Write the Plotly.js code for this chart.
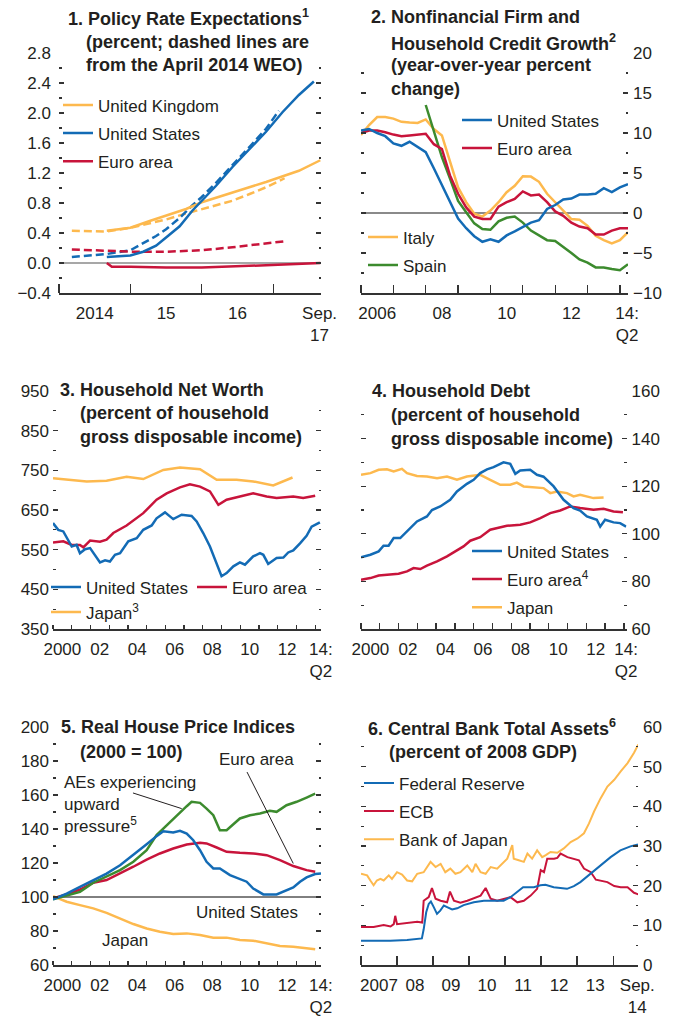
<!DOCTYPE html>
<html><head><meta charset="utf-8">
<script src="https://cdn.plot.ly/plotly-3.0.1.min.js"></script>
<style>html,body{margin:0;padding:0;background:#fff}#chart{width:679px;height:1025px}</style>
</head><body><div id="chart"></div>
<script>
// ---------- Panel 1: Policy rate expectations ----------
const p1_uk_x = [2014.67, 2015.0, 2015.27, 2015.5, 2015.78, 2016.0, 2016.43, 2016.9, 2017.36, 2017.66];
const p1_uk = [0.43, 0.47, 0.56, 0.63, 0.72, 0.81, 0.94, 1.08, 1.23, 1.37];
const p1_uk_apr_x = [2014.18, 2014.67, 2015.0, 2015.27, 2015.5, 2015.78, 2016.0, 2016.43, 2016.67, 2016.9, 2017.16];
const p1_uk_apr = [0.43, 0.42, 0.47, 0.53, 0.58, 0.66, 0.72, 0.83, 0.92, 1.01, 1.13];
const p1_us_x = [2014.67, 2015.0, 2015.18, 2015.36, 2015.5, 2015.69, 2015.87, 2016.0, 2016.2, 2016.43, 2016.67, 2016.9, 2017.13, 2017.36, 2017.57];
const p1_us = [0.08, 0.10, 0.15, 0.23, 0.34, 0.49, 0.70, 0.83, 1.03, 1.28, 1.52, 1.75, 2.01, 2.24, 2.42];
const p1_us_apr_x = [2014.18, 2014.67, 2015.0, 2015.18, 2015.36, 2015.5, 2015.69, 2015.87, 2016.0, 2016.2, 2016.43, 2016.67, 2016.9, 2017.08];
const p1_us_apr = [0.08, 0.12, 0.17, 0.26, 0.36, 0.45, 0.60, 0.77, 0.88, 1.07, 1.30, 1.55, 1.79, 2.03];
const p1_ea_x = [2014.67, 2014.74, 2015.0, 2015.5, 2016.0, 2016.43, 2016.9, 2017.66];
const p1_ea = [0.0, -0.05, -0.05, -0.06, -0.06, -0.05, -0.03, 0.0];
const p1_ea_apr_x = [2014.18, 2014.67, 2015.05, 2015.5, 2016.0, 2016.43, 2016.9, 2017.16];
const p1_ea_apr = [0.18, 0.16, 0.15, 0.15, 0.17, 0.21, 0.26, 0.29];
const p1_ticks = [2014.5, 2015.5, 2016.5, 2017.65];
const p1_labels = ['2014', '15', '16', 'Sep.<br>17'];
const p1_years = [2014, 2015, 2016, 2017];

// ---------- Panel 2: Credit growth (quarterly) ----------
const p2_q = [2006.0, 2006.25, 2006.5, 2006.75, 2007.0, 2007.25, 2007.5, 2007.75, 2008.0, 2008.25, 2008.5, 2008.75,
  2009.0, 2009.25, 2009.5, 2009.75, 2010.0, 2010.25, 2010.5, 2010.75, 2011.0, 2011.25, 2011.5, 2011.75,
  2012.0, 2012.25, 2012.5, 2012.75, 2013.0, 2013.25, 2013.5, 2013.75, 2014.0, 2014.25];
const p2_us = [10.3, 10.5, 10.0, 9.6, 8.7, 8.4, 8.9, 8.3, 7.6, 5.6, 3.5, 1.3, -0.7, -1.9, -2.9, -3.6, -3.3, -3.6, -2.8, -2.3,
  -1.8, -1.2, -0.9, 0.5, 1.0, 1.7, 1.8, 2.3, 2.3, 2.4, 3.1, 2.6, 3.2, 3.6];
const p2_ea = [10.0, 10.3, 10.3, 10.1, 9.8, 9.6, 9.7, 9.8, 9.9, 8.6, 8.0, 4.7, 2.4, 0.7, -0.45, -0.75, -0.75, 0.8, 1.35, 1.75,
  2.7, 2.2, 2.3, 1.35, 0.2, -0.35, -1.2, -1.7, -1.9, -2.7, -2.7, -2.2, -1.9, -1.9];
const p2_it = [9.75, 11.0, 12.0, 12.0, 11.8, 11.4, 11.3, 11.25, 11.7, 10.5, 9.7, 6.6, 3.2, 1.35, -0.1, -0.45, 0.3, 1.35, 2.6, 3.4,
  4.6, 4.55, 3.9, 2.4, 1.35, 0.2, -0.75, -0.85, -1.6, -2.85, -3.4, -3.8, -3.4, -2.4];
const p2_es_x = [2008.0, 2008.25, 2008.5, 2008.75, 2009.0, 2009.25, 2009.5, 2009.75, 2010.0, 2010.25, 2010.5, 2010.75,
  2011.0, 2011.25, 2011.5, 2011.75, 2012.0, 2012.25, 2012.5, 2012.75, 2013.0, 2013.25, 2013.5, 2013.75, 2014.0, 2014.25];
const p2_es = [13.5, 10.1, 7.0, 4.3, 1.5, 0.1, -1.3, -2.0, -2.1, -1.05, -0.6, -0.45, -1.2, -2.2, -2.85, -3.4, -3.5, -4.2, -5.0, -5.8,
  -6.2, -6.8, -6.8, -7.0, -7.15, -6.4];
const p2_ticks = [2006.5, 2008.5, 2010.5, 2012.5, 2014.22];
const p2_labels = ['2006', '08', '10', '12', '14:<br>Q2'];
const p2_years = [2006, 2007, 2008, 2009, 2010, 2011, 2012, 2013, 2014];

// ---------- Panel 3: Household net worth ----------
const p3_us_x = [2000.0, 2000.28, 2000.55, 2001.0, 2001.26, 2001.44, 2001.71, 2001.98, 2002.51, 2002.78, 2003.04, 2003.31, 2003.58,
  2004.02, 2004.47, 2004.82, 2005.27, 2005.53, 2005.98, 2006.42, 2006.87, 2007.4, 2007.67, 2008.02, 2008.38, 2008.65, 2009.0,
  2009.27, 2009.63, 2009.98, 2010.25, 2010.69, 2011.05, 2011.23, 2011.49, 2011.94, 2012.3, 2012.56, 2012.83, 2013.19, 2013.54,
  2013.81, 2014.25];
const p3_us = [617, 600, 596, 558, 562, 541, 551, 554, 518, 523, 520, 537, 541, 571, 579, 600, 611, 629, 644, 627, 638, 635, 621,
  592, 558, 525, 483, 491, 508, 518, 512, 533, 541, 537, 514, 529, 530, 543, 548, 566, 585, 608, 619];
const p3_ea_x = [2000.0, 2000.55, 2001.0, 2001.44, 2001.62, 2001.98, 2002.51, 2002.86, 2003.22, 2003.93, 2004.82, 2005.53, 2006.07,
  2006.78, 2007.31, 2007.85, 2008.38, 2008.83, 2009.27, 2009.8, 2010.69, 2011.41, 2011.94, 2012.83, 2013.36, 2014.0];
const p3_ea = [568, 571, 562, 562, 556, 573, 570, 575, 592, 611, 642, 676, 692, 707, 715, 709, 697, 663, 676, 682, 692, 684, 680,
  684, 680, 686];
const p3_jp_x = [2000.0, 2001.8, 2002.86, 2003.93, 2004.82, 2005.89, 2006.78, 2007.85, 2008.74, 2009.8, 2010.69, 2011.76, 2012.79];
const p3_jp = [730, 722, 724, 734, 728, 751, 757, 753, 726, 726, 722, 712, 732];
const p35_ticks = [2000.5, 2002.5, 2004.5, 2006.5, 2008.5, 2010.5, 2012.5, 2014.3];
const p35_labels = ['2000', '02', '04', '06', '08', '10', '12', '14:<br>Q2'];
const p345_years = [2000, 2001, 2002, 2003, 2004, 2005, 2006, 2007, 2008, 2009, 2010, 2011, 2012, 2013, 2014];

// ---------- Panel 4: Household debt ----------
const p4_us_x = [2000.0, 2000.5, 2000.94, 2001.2, 2001.47, 2001.74, 2002.09, 2002.45, 2002.98, 2003.51, 2003.78, 2004.22, 2004.75,
  2005.11, 2005.64, 2006.0, 2006.35, 2006.71, 2007.06, 2007.59, 2007.95, 2008.22, 2008.48, 2009.01, 2009.37, 2009.72, 2010.26,
  2010.79, 2011.32, 2011.67, 2012.03, 2012.56, 2012.74, 2013.0, 2013.45, 2013.8, 2014.12];
const p4_us = [90.1, 91.2, 92.6, 95.0, 95.0, 98.2, 98.2, 101.0, 105.2, 107.3, 110.0, 111.5, 114.3, 117.8, 121.0, 122.7, 125.5,
  127.1, 128.0, 130.0, 129.4, 125.2, 126.6, 126.9, 124.8, 124.0, 119.9, 114.3, 110.8, 109.8, 107.3, 105.9, 103.0, 105.9, 104.8,
  104.5, 103.0];
const p4_ea_x = [2000.0, 2000.5, 2000.94, 2001.56, 2002.0, 2002.45, 2002.8, 2003.16, 2003.51, 2004.05, 2004.58, 2005.02, 2005.46,
  2005.82, 2006.35, 2006.88, 2007.24, 2007.77, 2008.48, 2009.01, 2009.55, 2010.08, 2010.61, 2011.14, 2011.67, 2012.38, 2012.92,
  2013.45, 2013.95];
const p4_ea = [80.7, 81.4, 82.5, 82.8, 83.2, 84.2, 85.6, 85.2, 86.6, 88.4, 90.5, 92.6, 94.7, 97.1, 98.6, 101.7, 102.4, 103.4,
  103.8, 104.8, 106.6, 108.7, 109.8, 111.5, 110.8, 110.1, 110.5, 109.4, 109.1];
const p4_jp_x = [2000.0, 2000.5, 2000.94, 2001.38, 2001.74, 2002.18, 2002.45, 2002.98, 2003.51, 2004.05, 2004.58, 2005.11, 2005.64,
  2006.35, 2006.88, 2007.42, 2007.95, 2008.3, 2008.66, 2009.19, 2009.72, 2010.08, 2010.43, 2010.97, 2011.32, 2011.67, 2012.38,
  2012.92];
const p4_jp = [124.8, 125.5, 126.9, 127.1, 126.2, 127.3, 125.5, 124.3, 124.1, 123.4, 124.1, 122.7, 124.1, 124.8, 122.7, 120.6,
  120.6, 121.5, 119.9, 119.4, 119.2, 117.1, 117.8, 117.1, 115.7, 116.4, 115.0, 115.2];
const p4_ticks = [2000.5, 2002.5, 2004.5, 2006.5, 2008.5, 2010.5, 2012.5, 2014.12];

// ---------- Panel 5: Real house prices ----------
const p5_us_x = [2000.0, 2000.73, 2001.44, 2002.15, 2002.86, 2003.58, 2004.29, 2005.0, 2005.53, 2005.89, 2006.42, 2006.78, 2007.14,
  2007.49, 2007.85, 2008.2, 2008.56, 2008.91, 2009.45, 2009.98, 2010.34, 2010.69, 2011.23, 2011.94, 2012.47, 2012.83, 2013.19,
  2013.54, 2014.0, 2014.31];
const p5_us = [98.6, 102, 106, 110, 113.8, 118.7, 124.6, 131, 135.8, 138.7, 138, 138.9, 137.3, 133.4, 127.5, 120.7, 116.8, 116.8,
  112.9, 110.3, 109, 105, 101.5, 101.5, 104, 105.6, 109, 111.5, 113.5, 113.8];
const p5_ea_x = [2000.0, 2000.73, 2001.44, 2002.15, 2002.86, 2003.58, 2004.29, 2005.0, 2005.71, 2006.42, 2007.14, 2007.85, 2008.2,
  2008.74, 2009.27, 2009.98, 2010.69, 2011.41, 2012.12, 2012.83, 2013.54, 2014.0];
const p5_ea = [99.2, 101.5, 104.4, 108.4, 110, 113.8, 117.8, 122, 125.6, 128.5, 130.9, 131.9, 131.5, 129.1, 126.6, 126, 125.6,
  124.6, 121.7, 118.2, 115.8, 114.8];
const p5_ae_x = [2000.0, 2000.73, 2001.44, 2002.15, 2002.86, 2003.58, 2004.29, 2005.0, 2005.53, 2006.07, 2006.6, 2007.14, 2007.4,
  2007.85, 2008.2, 2008.56, 2008.91, 2009.27, 2009.63, 2009.98, 2010.52, 2011.05, 2011.58, 2011.94, 2012.47, 2013.01, 2013.54,
  2014.0];
const p5_ae = [98.6, 101, 103, 108.4, 111.9, 115.8, 120.7, 127.5, 136.4, 142.2, 148.1, 153.4, 156, 155.4, 152, 148.1, 139.3, 139.3,
  142.8, 146.2, 148.1, 149.1, 150.7, 150.1, 154, 156, 158.5, 160.8];
const p5_jp_x = [2000.0, 2000.73, 2001.44, 2002.15, 2002.86, 2003.58, 2004.29, 2005.0, 2005.71, 2006.42, 2007.14, 2007.85, 2008.56,
  2009.27, 2009.98, 2010.69, 2011.41, 2012.12, 2012.83, 2013.54, 2014.0];
const p5_jp = [100.5, 97.2, 95.2, 93.3, 90.7, 87.4, 84.1, 81.5, 79.6, 78.2, 78.6, 77.6, 76.1, 76.1, 74.7, 74.3, 72.7, 71.2, 70.8,
  69.8, 69.2];

// ---------- Panel 6: Central bank assets ----------
const p6_fed_x = [2007.0, 2007.81, 2008.28, 2008.69, 2008.74, 2008.81, 2008.88, 2008.94, 2009.02, 2009.11, 2009.2, 2009.3, 2009.39,
  2009.53, 2009.67, 2009.85, 2010.13, 2010.41, 2010.69, 2010.96, 2011.15, 2011.33, 2011.5, 2011.8, 2011.98, 2012.12, 2012.35,
  2012.72, 2012.91, 2013.09, 2013.37, 2013.65, 2013.93, 2014.2, 2014.48, 2014.69];
const p6_fed = [6.1, 6.1, 6.3, 6.7, 9, 13.3, 15.4, 16, 14.6, 12.9, 13.7, 15, 14.6, 14, 14.3, 15.1, 15.8, 16.2, 16.2, 16.2, 17.1,
  18.4, 19.6, 19.6, 20.1, 20.2, 19.6, 19.2, 19.9, 20.9, 23, 25.1, 27.2, 28.9, 29.9, 30.4];
const p6_ecb_x = [2007.0, 2007.35, 2007.63, 2007.82, 2007.91, 2007.95, 2008.0, 2008.28, 2008.56, 2008.7, 2008.74, 2008.88, 2008.97,
  2009.07, 2009.21, 2009.39, 2009.47, 2009.58, 2009.76, 2009.95, 2010.13, 2010.32, 2010.46, 2010.6, 2010.78, 2010.97, 2011.15,
  2011.34, 2011.52, 2011.71, 2011.89, 2011.99, 2012.08, 2012.17, 2012.36, 2012.45, 2012.54, 2012.73, 2012.91, 2013.05, 2013.19,
  2013.38, 2013.52, 2013.65, 2013.84, 2014.03, 2014.21, 2014.4, 2014.58, 2014.7];
const p6_ecb = [9.6, 9.6, 10.1, 9.7, 10.3, 12.4, 10.3, 10.6, 10.9, 10.7, 16.2, 17.1, 19.4, 16.7, 16.2, 15.8, 18.5, 16.2, 15.7, 16.2,
  16.8, 17.5, 19.4, 16.7, 16.2, 16.7, 17.1, 15.8, 16.2, 17.5, 19.2, 23.9, 23.4, 26.8, 26.8, 27.0, 28.1, 27.2, 26.8, 26.4, 24.3,
  23.4, 21.5, 21.3, 20.9, 19.9, 19.6, 19.6, 18.2, 17.8];
const p6_boj_x = [2007.0, 2007.17, 2007.26, 2007.35, 2007.44, 2007.54, 2007.63, 2007.77, 2007.86, 2008.0, 2008.14, 2008.28, 2008.42,
  2008.56, 2008.74, 2008.93, 2009.07, 2009.21, 2009.34, 2009.48, 2009.62, 2009.76, 2009.95, 2010.09, 2010.18, 2010.32, 2010.46,
  2010.6, 2010.78, 2010.97, 2011.06, 2011.2, 2011.24, 2011.38, 2011.52, 2011.62, 2011.75, 2011.89, 2012.03, 2012.13, 2012.26,
  2012.45, 2012.63, 2012.82, 2013.01, 2013.19, 2013.33, 2013.47, 2013.65, 2013.84, 2014.03, 2014.21, 2014.4, 2014.58, 2014.7];
const p6_boj = [23, 22.6, 21.3, 20.1, 21.3, 21.7, 21.3, 22.6, 21.7, 23.4, 22.8, 21.3, 21.1, 23, 23.4, 26, 24.7, 25.5, 23.4, 24.3,
  23, 23.4, 25.1, 23.4, 25.5, 23.4, 23, 24.7, 24.3, 26, 26.8, 30.2, 26.8, 26.4, 26, 28.1, 26.8, 28.9, 27.2, 27.7, 28.5, 28.3,
  29.4, 31, 31.9, 33.2, 35.7, 38.7, 42, 45, 46.7, 48.8, 50.9, 53.5, 55.6];
const p6_ticks = [2007.5, 2008.5, 2009.5, 2010.5, 2011.5, 2012.5, 2013.5, 2014.67];
const p6_labels = ['2007', '08', '09', '10', '11', '12', '13', 'Sep.<br>14'];
const p6_years = [2007, 2008, 2009, 2010, 2011, 2012, 2013, 2014];

// ---------- styling ----------
const W = 679, H = 1025;
const FONT = 'Liberation Sans, Arial, Helvetica, sans-serif';
const TXT = '#231f20';
const ORANGE = '#FDB94E', BLUE = '#136BB5', RED = '#C8143B', GREEN = '#3C8B2E';
const LW = 2.5;
const fx = p => p / W, fy = p => 1 - p / H;

function ln(x, y, color, xa, ya, name, legend, rank, extra) {
  return Object.assign({
    type: 'scatter', mode: 'lines', x: x, y: y, xaxis: xa, yaxis: ya, name: name,
    line: {color: color, width: LW}, hoverinfo: 'skip',
    showlegend: !!legend, legend: legend || 'legend', legendgroup: name + xa, legendrank: rank || 1000
  }, extra || {});
}
const dashed = c => ({line: {color: c, width: LW, dash: '8px,4px'}});
const thin = c => ({line: {color: c, width: 2}});
const data = [
  ln(p1_uk_apr_x, p1_uk_apr, ORANGE, 'x', 'y', 'UK, April 2014 WEO', null, 0, dashed(ORANGE)),
  ln(p1_us_apr_x, p1_us_apr, BLUE, 'x', 'y', 'US, April 2014 WEO', null, 0, dashed(BLUE)),
  ln(p1_ea_apr_x, p1_ea_apr, RED, 'x', 'y', 'Euro area, April 2014 WEO', null, 0, dashed(RED)),
  ln(p1_uk_x, p1_uk, ORANGE, 'x', 'y', 'United Kingdom', 'legend', 1),
  ln(p1_us_x, p1_us, BLUE, 'x', 'y', 'United States', 'legend', 2),
  ln(p1_ea_x, p1_ea, RED, 'x', 'y', 'Euro area', 'legend', 3),

  ln(p2_q, p2_it, ORANGE, 'x2', 'y2', 'Italy', 'legend3', 1),
  ln(p2_es_x, p2_es, GREEN, 'x2', 'y2', 'Spain', 'legend3', 2),
  ln(p2_q, p2_ea, RED, 'x2', 'y2', 'Euro area', 'legend2', 2),
  ln(p2_q, p2_us, BLUE, 'x2', 'y2', 'United States', 'legend2', 1),

  ln(p3_jp_x, p3_jp, ORANGE, 'x3', 'y3', 'Japan<sup>3</sup>', 'legend4', 2),
  ln(p3_ea_x, p3_ea, RED, 'x3', 'y3', 'Euro area', 'legend5', 1),
  ln(p3_us_x, p3_us, BLUE, 'x3', 'y3', 'United States', 'legend4', 1),

  ln(p4_jp_x, p4_jp, ORANGE, 'x4', 'y4', 'Japan', 'legend6', 3),
  ln(p4_ea_x, p4_ea, RED, 'x4', 'y4', 'Euro area<sup>4</sup>', 'legend6', 2),
  ln(p4_us_x, p4_us, BLUE, 'x4', 'y4', 'United States', 'legend6', 1),

  ln(p5_jp_x, p5_jp, ORANGE, 'x5', 'y5', 'Japan', null),
  ln(p5_ea_x, p5_ea, RED, 'x5', 'y5', 'Euro area', null),
  ln(p5_ae_x, p5_ae, GREEN, 'x5', 'y5', 'AEs experiencing upward pressure', null),
  ln(p5_us_x, p5_us, BLUE, 'x5', 'y5', 'United States', null),

  ln(p6_boj_x, p6_boj, ORANGE, 'x6', 'y6', 'Bank of Japan', 'legend7', 3, thin(ORANGE)),
  ln(p6_ecb_x, p6_ecb, RED, 'x6', 'y6', 'ECB', 'legend7', 2, thin(RED)),
  ln(p6_fed_x, p6_fed, BLUE, 'x6', 'y6', 'Federal Reserve', 'legend7', 1, thin(BLUE))
];

function xax(l, r, range, ticks, labels, years, tlen, anchor) {
  return {
    domain: [fx(l), fx(r)], range: range, anchor: anchor, showgrid: false, zeroline: false,
    showline: true, linecolor: '#333', linewidth: 1.5,
    tickmode: 'array', tickvals: ticks, ticktext: labels, ticks: '', ticklabelstandoff: 4,
    tickfont: {size: 17, color: TXT, family: FONT},
    minor: {tickmode: 'array', tickvals: years, ticks: 'inside', ticklen: tlen, tickcolor: '#333', tickwidth: 1.3, showgrid: false},
    fixedrange: true
  };
}
function yax(t, b, range, tick0, dtick, mdtick, side, anchor, extra) {
  return Object.assign({
    domain: [fy(b), fy(t)], range: range, anchor: anchor, side: side, showgrid: false, zeroline: false,
    showline: false, ticks: 'inside', ticklen: 5, tickwidth: 1.3, tickcolor: '#333', mirror: 'ticks',
    tickmode: 'linear', tick0: tick0, dtick: dtick, ticklabelstandoff: side === 'right' ? 4 : 3,
    minor: {tickmode: 'linear', tick0: tick0, dtick: mdtick, ticks: 'inside', ticklen: 2.5, tickwidth: 1.3, tickcolor: '#333', showgrid: false},
    tickfont: {size: 17, color: TXT, family: FONT}, fixedrange: true
  }, extra || {});
}
const R1 = [53, 293], R2 = [391, 629], R3 = [727, 965];

function legendAt(textX, firstCenterY, gap) {
  return {
    x: fx(textX - 40), y: fy(firstCenterY - 17.6), xanchor: 'left', yanchor: 'top',
    bgcolor: 'rgba(0,0,0,0)', borderwidth: 0, orientation: 'v', tracegroupgap: gap,
    font: {size: 17, color: TXT, family: FONT}, itemclick: false, itemdoubleclick: false
  };
}
function title(text, xpx, ypx) {
  return {text: text, x: fx(xpx), y: fy(ypx), xref: 'paper', yref: 'paper', xanchor: 'left', yanchor: 'middle',
    showarrow: false, font: {size: 18, color: TXT, family: FONT}};
}
function label(text, x, y, xanchor, align) {
  return {text: text, x: x, y: y, xref: 'x5', yref: 'y5', xanchor: xanchor, yanchor: 'middle', align: align,
    showarrow: false, font: {size: 17, color: TXT, family: FONT}};
}
function pointer(x0, y0, x1, y1) {
  return {type: 'line', xref: 'x5', yref: 'y5', x0: x0, y0: y0, x1: x1, y1: y1, line: {color: '#231f20', width: 1}};
}

const layout = {
  width: W, height: H, margin: {l: 0, r: 0, t: 0, b: 0}, paper_bgcolor: '#fff', plot_bgcolor: 'rgba(0,0,0,0)',
  font: {family: FONT, color: TXT, size: 17}, hovermode: false,
  xaxis: xax(59, 321, [2014, 2017.67], p1_ticks, p1_labels, p1_years, 9, 'y'),
  yaxis: yax(R1[0], R1[1], [-0.4, 2.8], -0.4, 0.4, 0.2, 'left', 'x', {tickformat: '.1f', ticklabelstandoff: 7}),
  xaxis2: xax(361, 628, [2006, 2014.25], p2_ticks, p2_labels, p2_years, 8, 'y2'),
  yaxis2: yax(R1[0], R1[1], [-10, 20], 0, 5, 2.5, 'right', 'x2',
    {zeroline: true, zerolinecolor: '#8a8a8a', zerolinewidth: 1.5}),
  xaxis3: xax(53, 321, [2000, 2014.31], p35_ticks, p35_labels, p345_years, 4.5, 'y3'),
  yaxis3: yax(R2[0], R2[1], [350, 950], 350, 100, 50, 'left', 'x3'),
  xaxis4: xax(361, 626.5, [2000, 2014.14], p4_ticks, p35_labels, p345_years, 6, 'y4'),
  yaxis4: yax(R2[0], R2[1], [60, 160], 60, 20, 10, 'right', 'x4'),
  xaxis5: xax(53, 321, [2000, 2014.31], p35_ticks, p35_labels, p345_years, 4.5, 'y5'),
  yaxis5: yax(R3[0], R3[1], [60, 200], 60, 20, 10, 'left', 'x5'),
  xaxis6: xax(361, 638, [2007, 2014.69], p6_ticks, p6_labels, p6_years, 9, 'y6'),
  yaxis6: yax(R3[0], R3[1], [0, 60], 0, 10, 5, 'right', 'x6'),
  legend: legendAt(98, 105, 3),
  legend2: legendAt(497, 120, 3),
  legend3: legendAt(403, 237, 3),
  legend4: legendAt(86, 587, 0),
  legend5: legendAt(232, 587, 0),
  legend6: legendAt(507, 551, 3),
  legend7: legendAt(399, 783, 3),
  shapes: [
    {type: 'line', xref: 'x domain', yref: 'y', x0: 0, x1: 1, y0: 0, y1: 0, layer: 'below', line: {color: '#8a8a8a', width: 1.5}},
    {type: 'line', xref: 'x5 domain', yref: 'y5', x0: 0, x1: 1, y0: 100, y1: 100, layer: 'below', line: {color: '#000', width: 1}},
    pointer(2010.36, 173.5, 2012.83, 119.7),
    pointer(2004.27, 161.2, 2006.87, 152)
  ],
  annotations: [
    title('<b>1. Policy Rate Expectations<sup>1</sup></b>', 66, 17),
    title('<b>(percent; dashed lines are</b>', 84, 42),
    title('<b>from the April 2014 WEO)</b>', 84, 65),
    title('<b>2. Nonfinancial Firm and</b>', 369, 17),
    title('<b>Household Credit Growth<sup>2</sup></b>', 389, 42),
    title('<b>(year-over-year percent</b>', 389, 65),
    title('<b>change)</b>', 389, 89),
    title('<b>3. Household Net Worth</b>', 58, 390),
    title('<b>(percent of household</b>', 78, 413),
    title('<b>gross disposable income)</b>', 78, 437),
    title('<b>4. Household Debt</b>', 370, 391),
    title('<b>(percent of household</b>', 389, 415),
    title('<b>gross disposable income)</b>', 389, 439),
    title('<b>5. Real House Price Indices</b>', 59, 727),
    title('<b>(2000 = 100)</b>', 78, 752),
    title('<b>6. Central Bank Total Assets<sup>6</sup></b>', 366, 727),
    title('<b>(percent of 2008 GDP)</b>', 387, 752),
    label('Euro area', 2010.89, 180.6, 'center', 'center'),
    label('AEs experiencing<br>upward<br>pressure<sup>5</sup>', 2000.5, 154.7, 'left', 'left'),
    label('United States', 2010.36, 90.6, 'center', 'center'),
    label('Japan', 2003.84, 74.7, 'center', 'center')
  ]
};

Plotly.newPlot('chart', data, layout, {displayModeBar: false, staticPlot: true});
</script>
</body></html>
